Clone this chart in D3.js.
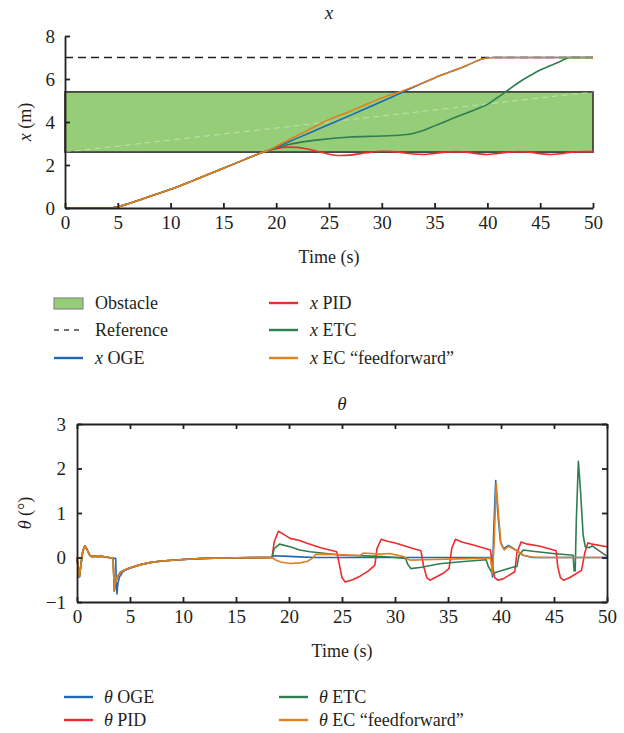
<!DOCTYPE html>
<html>
<head>
<meta charset="utf-8">
<script src="https://cdn.jsdelivr.net/npm/d3@7"></script>
<style>
  body { margin: 0; background: #fff; }
  text { font-family: "Liberation Serif", "DejaVu Serif", serif; fill: #231f20; }
</style>
</head>
<body>
<svg width="624" height="733"></svg>
<script>
// ---- data: position x (m) ----
var obstacle = [2.6, 5.4];
var reference = 7;
var xCommon = [[0,0],[4.2,0],[5,0.06],[6,0.2],[7,0.36],[8,0.53],[9,0.7],[10,0.87],[12,1.25],[15,1.85],[17,2.25],[18.8,2.6],[19.1,2.65]];
var xOGE = [[20,2.84],[21,3.04],[22,3.25],[24,3.67],[26,4.09],[28,4.52],[30,4.95],[32,5.4],[35,6.05],[38,6.62],[39.5,6.93],[40.5,7.0],[50,7.0]];
var xPID = [[20,2.76],[21,2.83],[22,2.82],[23,2.74],[24,2.62],[25,2.5],[26,2.44],[27,2.46],[28,2.53],[29,2.6],[30,2.64],[31,2.62],[32,2.57],[33,2.51],[34,2.49],[35,2.54],[36,2.6],[37,2.62],[38,2.59],[39,2.53],[40,2.49],[41,2.54],[42,2.6],[43,2.62],[44,2.59],[45,2.53],[46,2.49],[47,2.53],[48,2.6],[49,2.62],[50,2.62]];
var xETC = [[20,2.8],[21,2.93],[22,3.03],[24,3.17],[27,3.3],[30,3.35],[32.4,3.42],[34,3.62],[35,3.82],[37.4,4.3],[39,4.6],[40,4.82],[41,5.15],[42,5.5],[43,5.85],[44,6.15],[45,6.42],[46,6.63],[47,6.84],[47.8,7.0],[50,7.0]];
var xEC = [[20,2.87],[21,3.12],[22,3.37],[23,3.62],[24.9,4.09],[27,4.5],[30,5.12],[32,5.45],[35,6.05],[38,6.62],[39.5,6.93],[40.5,7.0],[50,7.0]];

// ---- data: angle theta (deg) ----
var thStart = [[0,0],[0.1,-0.2],[0.22,-0.44],[0.35,-0.2],[0.55,0.15],[0.75,0.26],[0.95,0.18],[1.2,0.05],[1.4,0.02],[1.7,0.03],[2.0,0.02],[2.3,0.03],[2.7,0.01],[3.0,0.0],[3.4,-0.02]];
var thDip = [[3.45,-0.3],[3.52,-0.75],[3.6,-0.6],[3.8,-0.44],[4.1,-0.33],[4.5,-0.28],[5,-0.23]];
var thDipOGE = [[3.65,-0.02],[3.7,-0.5],[3.77,-0.82],[3.85,-0.6],[4.0,-0.44],[4.3,-0.33],[4.6,-0.28],[5,-0.24]];
var thSettle = [[6,-0.16],[7,-0.11],[8,-0.08],[10,-0.045],[12,-0.02],[15,-0.005],[18.4,0]];
var thOGE = [[18.6,0.04],[19.5,0.03],[21,0.015],[22.5,0],[39.1,0],[39.2,-0.44],[39.3,0.5],[39.5,1.73],[39.7,1.0],[39.95,0.35],[40.25,0.2],[40.7,0.27],[41.2,0.2],[42.1,0.05],[43,0],[50,0]];
var thPID = [[18.6,0.35],[19.0,0.59],[19.5,0.52],[20.1,0.43],[21,0.38],[21.7,0.32],[23,0.22],[24.5,0.13],[24.7,-0.1],[25.0,-0.45],[25.3,-0.55],[26,-0.5],[26.7,-0.42],[27.5,-0.3],[28.1,-0.17],[28.3,0.2],[28.7,0.41],[29.2,0.37],[30.1,0.32],[31.7,0.2],[32.45,0.15],[32.7,-0.2],[33.0,-0.45],[33.3,-0.51],[34.5,-0.36],[35.1,-0.25],[35.35,0.2],[35.7,0.41],[36.3,0.35],[37.4,0.28],[39.0,0.17],[39.15,-0.1],[39.4,-0.45],[39.7,-0.51],[40.2,-0.48],[41.3,-0.32],[41.5,0.1],[41.9,0.35],[42.5,0.3],[43.6,0.26],[45.2,0.15],[45.35,-0.2],[45.6,-0.45],[45.9,-0.51],[46.5,-0.45],[47.6,-0.29],[47.9,0.1],[48.2,0.33],[48.6,0.3],[50,0.24]];
var thETC = [[18.6,0.2],[19.1,0.3],[20.1,0.24],[21,0.17],[22,0.13],[23.5,0.09],[25.1,0.05],[27.9,0.03],[29.5,0.01],[31.0,-0.02],[31.2,-0.15],[31.5,-0.25],[32.5,-0.22],[34.2,-0.14],[36.5,-0.09],[38.6,-0.05],[38.8,-0.2],[39.2,-0.36],[40,-0.3],[41.1,-0.22],[41.5,-0.2],[41.7,0.05],[42.1,0.17],[43,0.14],[44.9,0.09],[46.8,0.05],[46.9,-0.3],[47.0,-0.3],[47.1,0.8],[47.3,2.16],[47.5,1.5],[47.75,0.5],[47.95,0.24],[48.3,0.22],[48.6,0.26],[49.2,0.16],[50,0.03]];
var thEC = [[18.7,-0.05],[19.2,-0.1],[20.1,-0.135],[21.0,-0.12],[21.7,-0.09],[22.2,-0.02],[22.5,0.07],[23.5,0.075],[26.7,0.045],[27.0,0.1],[28.6,0.075],[29.5,0.09],[30.8,0.02],[31.4,-0.06],[33.6,-0.045],[36,-0.03],[39.0,-0.015],[39.2,-0.36],[39.35,0.3],[39.55,1.67],[39.75,1.0],[40.0,0.3],[40.3,0.17],[40.7,0.25],[41.3,0.18],[42.1,0.05],[42.8,0.01],[43.5,0],[50,0]];

var timeTicks = [0,5,10,15,20,25,30,35,40,45,50];
var xTicks = [0,2,4,6,8];
var thTicks = [-1,0,1,2,3];

var colors = { OGE: "#2068b4", PID: "#ee2b2e", ETC: "#2f7d52", EC: "#e0801f" };

var svg = d3.select("svg");
var ink = "#231f20";
var intFmt = d3.format("d");

function styleAxis(g) {
    g.select(".domain").attr("stroke", ink).attr("stroke-width", 1.8);
    g.selectAll(".tick line").attr("stroke", ink).attr("stroke-width", 1.8);
    g.selectAll(".tick text").style("font-size", "19px").attr("fill", ink)
        .style("font-family", '"Liberation Serif", serif');
}

// ================= top chart =================
var t1 = { left: 65, right: 593, top: 36, bottom: 208 };
var x1 = d3.scaleLinear().domain([0, 50]).range([t1.left, t1.right]);
var y1 = d3.scaleLinear().domain([0, 8]).range([t1.bottom, t1.top]);

svg.append("text").attr("x", (t1.left + t1.right) / 2).attr("y", 19)
    .attr("text-anchor", "middle").style("font-size", "19px").style("font-style", "italic").text("x");

svg.append("rect")
    .attr("x", x1(0)).attr("width", x1(50) - x1(0))
    .attr("y", y1(obstacle[1])).attr("height", y1(obstacle[0]) - y1(obstacle[1]))
    .attr("fill", "#96cd79").attr("stroke", "#333").attr("stroke-width", 1.6);

// faint diagonal seen inside the patch
svg.append("line")
    .attr("x1", x1(0)).attr("y1", y1(obstacle[0])).attr("x2", x1(50)).attr("y2", y1(obstacle[1]))
    .attr("stroke", "#fff").attr("stroke-opacity", 0.4).attr("stroke-width", 1)
    .attr("stroke-dasharray", "6,4");

svg.append("line")
    .attr("x1", x1(0)).attr("x2", x1(50)).attr("y1", y1(reference)).attr("y2", y1(reference))
    .attr("stroke", "#222").attr("stroke-width", 1.4).attr("stroke-dasharray", "8,5");

var line1 = d3.line().x(function (d) { return x1(d[0]); }).y(function (d) { return y1(d[1]); })
    .curve(d3.curveMonotoneX);

[["OGE", xOGE], ["PID", xPID], ["ETC", xETC], ["EC", xEC]].forEach(function (s) {
    svg.append("path").datum(xCommon.concat(s[1]))
        .attr("fill", "none").attr("stroke", colors[s[0]]).attr("stroke-width", 1.6)
        .attr("stroke-linejoin", "round").attr("d", line1);
});

var ax1 = svg.append("g").attr("transform", "translate(0," + t1.bottom + ")")
    .call(d3.axisBottom(x1).tickValues(timeTicks).tickFormat(intFmt).tickSizeInner(-5).tickSizeOuter(0).tickPadding(8));
styleAxis(ax1);
var ay1 = svg.append("g").attr("transform", "translate(" + t1.left + ",0)")
    .call(d3.axisLeft(y1).tickValues(xTicks).tickFormat(intFmt).tickSizeInner(-5).tickSizeOuter(0).tickPadding(10));
styleAxis(ay1);

svg.append("text").attr("x", (t1.left + t1.right) / 2).attr("y", 263)
    .attr("text-anchor", "middle").style("font-size", "18px").text("Time (s)");

var yl1 = svg.append("text").attr("transform", "translate(31," + (t1.top + t1.bottom) / 2 + ") rotate(-90)")
    .attr("text-anchor", "middle").style("font-size", "18px");
yl1.append("tspan").style("font-style", "italic").text("x");
yl1.append("tspan").text(" (m)");

// top legend
var leg1 = svg.append("g").style("font-size", "18px");
leg1.append("rect").attr("x", 54).attr("y", 298).attr("width", 29).attr("height", 11)
    .attr("fill", "#96cd79").attr("stroke", "#888").attr("stroke-width", 1.2);
leg1.append("text").attr("x", 95).attr("y", 309).text("Obstacle");
leg1.append("line").attr("x1", 54).attr("x2", 83).attr("y1", 330).attr("y2", 330)
    .attr("stroke", "#444").attr("stroke-width", 1.4).attr("stroke-dasharray", "5,5");
leg1.append("text").attr("x", 95).attr("y", 336).text("Reference");

function legendItem(g, lx, ly, color, sym, label, textX) {
    g.append("line").attr("x1", lx).attr("x2", lx + 29).attr("y1", ly).attr("y2", ly)
        .attr("stroke", color).attr("stroke-width", 2.4);
    var t = g.append("text").attr("x", textX).attr("y", ly + 6);
    t.append("tspan").style("font-style", "italic").text(sym);
    t.append("tspan").text(" " + label);
}
legendItem(leg1, 54, 358, colors.OGE, "x", "OGE", 95);
legendItem(leg1, 269, 303, colors.PID, "x", "PID", 310);
legendItem(leg1, 269, 330, colors.ETC, "x", "ETC", 310);
legendItem(leg1, 269, 358, colors.EC, "x", "EC \u201cfeedforward\u201d", 310);

// ================= bottom chart =================
var t2 = { left: 77, right: 607, top: 424, bottom: 602 };
var x2 = d3.scaleLinear().domain([0, 50]).range([t2.left, t2.right]);
var y2 = d3.scaleLinear().domain([-1, 3]).range([t2.bottom, t2.top]);

svg.append("text").attr("x", (t2.left + t2.right) / 2).attr("y", 410)
    .attr("text-anchor", "middle").style("font-size", "19px").style("font-style", "italic").text("\u03b8");

var line2 = d3.line().x(function (d) { return x2(d[0]); }).y(function (d) { return y2(d[1]); });

var thSeries = [
    ["OGE", thStart.concat(thDipOGE, thSettle, thOGE)],
    ["PID", thStart.concat(thDip, thSettle, thPID)],
    ["ETC", thStart.concat(thDip, thSettle, thETC)],
    ["EC", thStart.concat(thDip, thSettle, thEC)]
];
thSeries.forEach(function (s) {
    svg.append("path").datum(s[1])
        .attr("fill", "none").attr("stroke", colors[s[0]]).attr("stroke-width", 1.6)
        .attr("stroke-linejoin", "round").attr("d", line2);
});

var ax2 = svg.append("g").attr("transform", "translate(0," + t2.bottom + ")")
    .call(d3.axisBottom(x2).tickValues(timeTicks).tickFormat(intFmt).tickSizeInner(-5).tickSizeOuter(0).tickPadding(8));
styleAxis(ax2);
var ax2t = svg.append("g").attr("transform", "translate(0," + t2.top + ")")
    .call(d3.axisTop(x2).tickValues(timeTicks).tickSizeInner(-5).tickSizeOuter(0).tickFormat(""));
styleAxis(ax2t);
var ay2 = svg.append("g").attr("transform", "translate(" + t2.left + ",0)")
    .call(d3.axisLeft(y2).tickValues(thTicks).tickFormat(intFmt).tickSizeInner(-5).tickSizeOuter(0).tickPadding(11));
styleAxis(ay2);
var ay2r = svg.append("g").attr("transform", "translate(" + t2.right + ",0)")
    .call(d3.axisRight(y2).tickValues(thTicks).tickSizeInner(-5).tickSizeOuter(0).tickFormat(""));
styleAxis(ay2r);

svg.append("text").attr("x", (t2.left + t2.right) / 2).attr("y", 657)
    .attr("text-anchor", "middle").style("font-size", "18px").text("Time (s)");

var yl2 = svg.append("text").attr("transform", "translate(31," + (t2.top + t2.bottom) / 2 + ") rotate(-90)")
    .attr("text-anchor", "middle").style("font-size", "18px");
yl2.append("tspan").style("font-style", "italic").text("\u03b8");
yl2.append("tspan").text(" (\u00b0)");

var leg2 = svg.append("g").style("font-size", "18px");
legendItem(leg2, 64, 697, colors.OGE, "\u03b8", "OGE", 104);
legendItem(leg2, 64, 720, colors.PID, "\u03b8", "PID", 104);
legendItem(leg2, 279, 697, colors.ETC, "\u03b8", "ETC", 319);
legendItem(leg2, 279, 720, colors.EC, "\u03b8", "EC \u201cfeedforward\u201d", 319);
</script>
</body>
</html>
